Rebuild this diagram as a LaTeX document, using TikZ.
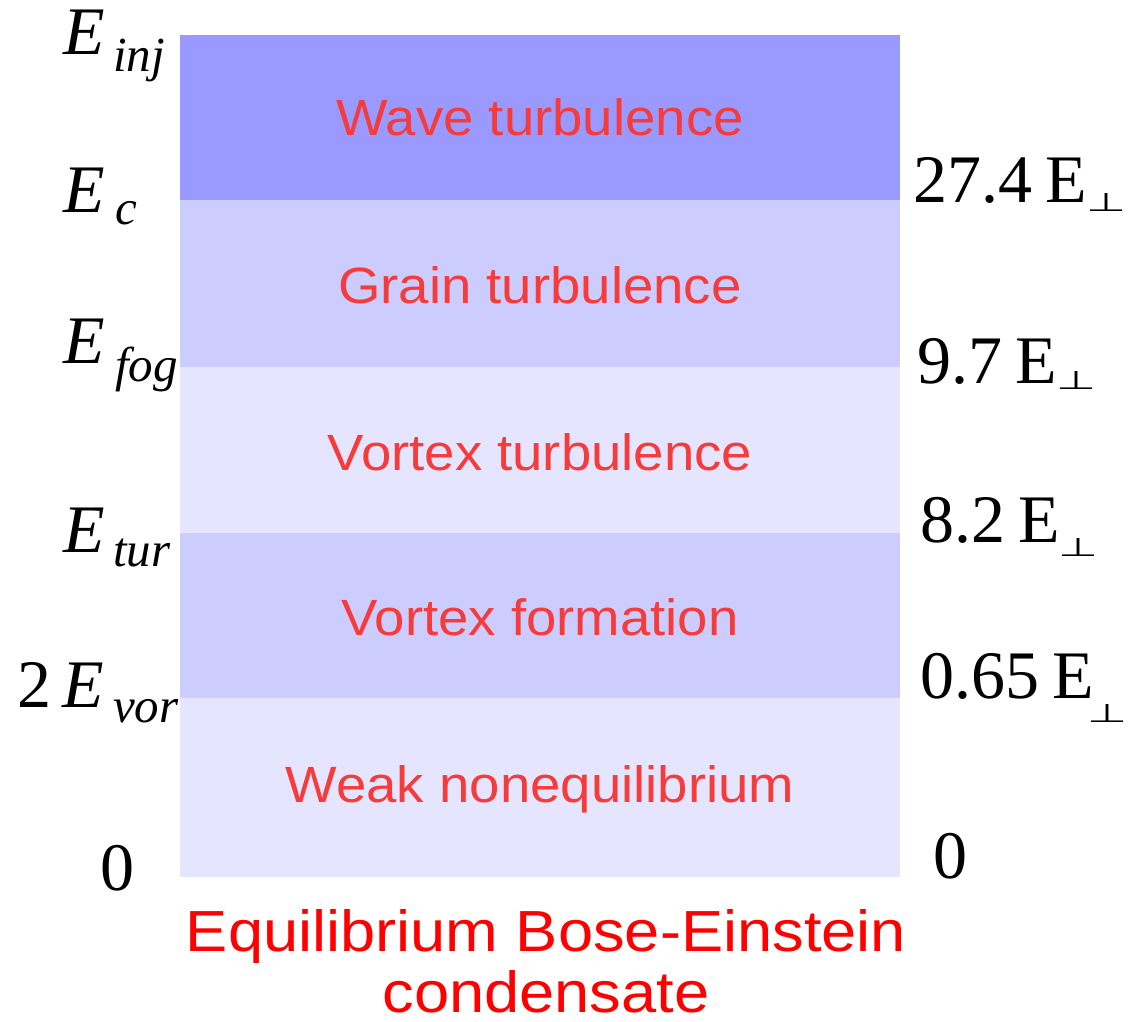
\documentclass[tikz,border=0pt]{standalone}
\usepackage{fontspec}
\setmainfont{Liberation Serif}
\newfontfamily\arialf{Liberation Sans}
\newfontfamily\dejavuf{DejaVu Sans}
\definecolor{bandA}{HTML}{9999FF}
\definecolor{bandB}{HTML}{CCCCFF}
\definecolor{bandC}{HTML}{E5E5FF}
\definecolor{lblred}{HTML}{F73A3A}
\definecolor{botred}{HTML}{FF0000}
\newcommand{\perpsym}{\resizebox{40pt}{18pt}{\dejavuf ⊥}}
\newcommand{\phasetxt}[1]{\scalebox{1.07}[1]{#1}}
\newcommand{\bottxt}[1]{\scalebox{1.09}[1]{#1}}
\begin{document}
\begin{tikzpicture}[x=1pt,y=-1pt,
  phase/.style={text=lblred,font=\arialf\fontsize{51}{51}\selectfont,inner sep=0pt},
  bottomlbl/.style={text=botred,font=\arialf\fontsize{58}{58}\selectfont,inner sep=0pt,anchor=base},
  bigE/.style={font=\itshape\fontsize{68}{68}\selectfont,inner sep=0pt,anchor=base west},
  subE/.style={font=\itshape\fontsize{49}{49}\selectfont,inner sep=0pt,anchor=base west},
  numlbl/.style={font=\fontsize{68}{68}\selectfont,inner sep=0pt,anchor=base west},
  perpsub/.style={inner sep=0pt,anchor=south west}]
\useasboundingbox (0,0) rectangle (1128,1022);
% bands
\fill[bandA] (180,35) rectangle (900,200.5);
\fill[bandB] (180,200.5) rectangle (900,367);
\fill[bandC] (180,367) rectangle (900,533);
\fill[bandB] (180,533) rectangle (900,698);
\fill[bandC] (180,698) rectangle (900,877);
% phase labels
\node[phase] (wave) at (540,117) {\phasetxt{Wave turbulence}};
\node[phase] (grain) at (540,285) {\phasetxt{Grain turbulence}};
\node[phase] (vturb) at (540,452) {\phasetxt{Vortex turbulence}};
\node[phase] (vform) at (540,617) {\phasetxt{Vortex formation}};
\node[phase] (weak) at (540,789) {\phasetxt{Weak nonequilibrium}};
% bottom
\node[bottomlbl] (eq1) at (546,951) {\bottxt{Equilibrium Bose-Einstein}};
\node[bottomlbl] (eq2) at (546,1012) {\bottxt{condensate}};
% left labels
\node[bigE] (einj) at (63,55) {E};
\node[subE] (sinj) at (113,72) {inj};
\node[bigE] (ec) at (63,212) {E};
\node[subE] (sc) at (115,225) {c};
\node[bigE] (efog) at (63,363) {E};
\node[subE] (sfog) at (115,381) {fog};
\node[bigE] (etur) at (63,552) {E};
\node[subE] (stur) at (113,566) {tur};
\node[numlbl] (two) at (17,707) {2};
\node[bigE] (evor) at (62,707) {E};
\node[subE] (svor) at (113,722) {vor};
\node[numlbl] (zl) at (100,890) {0};
% right labels
\node[numlbl] (r1) at (913,203) {27.4\hspace{0.2em}E};
\node[perpsub] (p1) at (1086,212) {\perpsym};
\node[numlbl] (r2) at (917,383) {9.7\hspace{0.2em}E};
\node[perpsub] (p2) at (1056,390) {\perpsym};
\node[numlbl] (r3) at (920,542) {8.2\hspace{0.2em}E};
\node[perpsub] (p3) at (1058,557) {\perpsym};
\node[numlbl] (r4) at (920,698) {0.65\hspace{0.2em}E};
\node[perpsub] (p4) at (1087,723) {\perpsym};
\node[numlbl] (zr) at (933,878) {0};
\end{tikzpicture}
\end{document}
